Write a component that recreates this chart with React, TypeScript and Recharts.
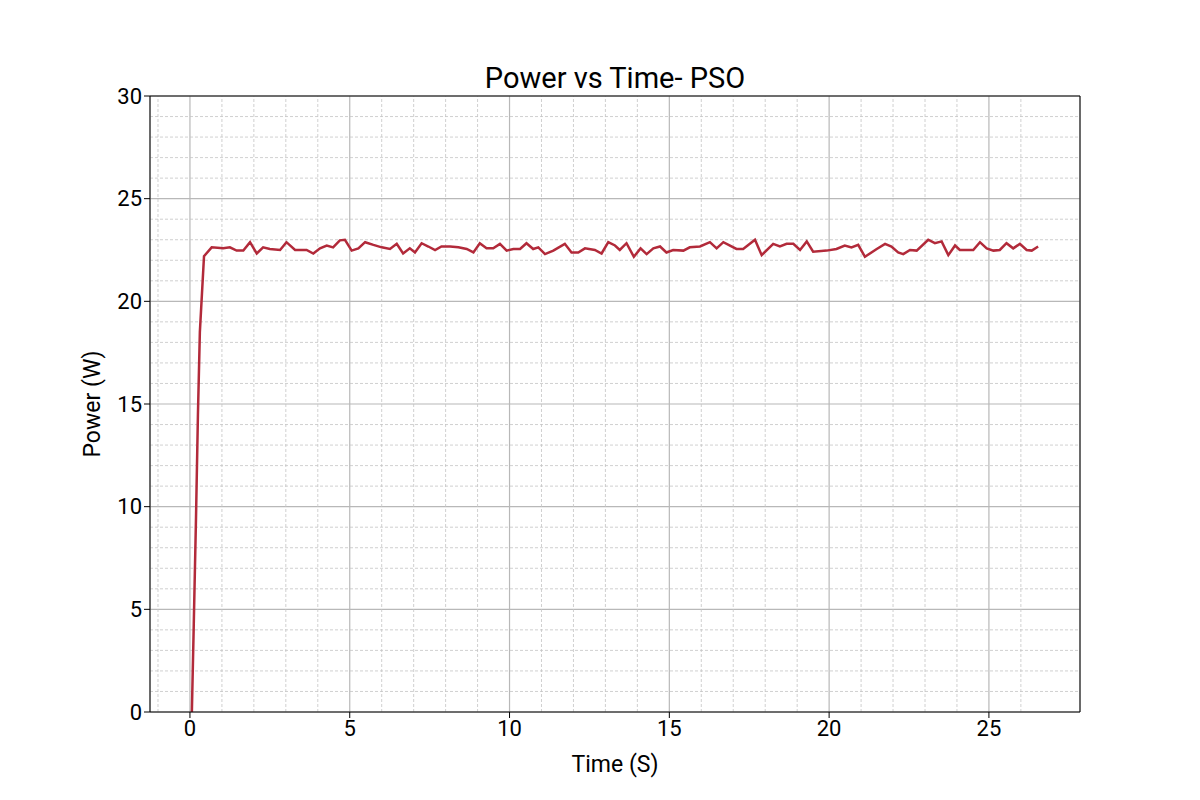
import { LineChart, Line, XAxis, YAxis, CartesianGrid, ReferenceLine } from "recharts";

const times = [0.06, 0.12, 0.19, 0.25, 0.31, 0.44, 0.68, 1.04, 1.25, 1.46, 1.67, 1.88, 2.09, 2.29, 2.5, 2.82, 3.02, 3.29, 3.65, 3.86, 4.07, 4.28, 4.48, 4.69, 4.85, 5.06, 5.27, 5.48, 5.74, 6.0, 6.26, 6.47, 6.67, 6.88, 7.04, 7.25, 7.46, 7.67, 7.87, 8.14, 8.4, 8.66, 8.87, 9.07, 9.28, 9.49, 9.7, 9.91, 10.12, 10.33, 10.53, 10.74, 10.9, 11.11, 11.37, 11.73, 11.94, 12.15, 12.36, 12.67, 12.88, 13.09, 13.3, 13.45, 13.66, 13.89, 14.1, 14.29, 14.5, 14.71, 14.91, 15.12, 15.44, 15.64, 15.96, 16.27, 16.48, 16.69, 17.1, 17.31, 17.68, 17.89, 18.25, 18.46, 18.67, 18.88, 19.09, 19.3, 19.5, 19.92, 20.23, 20.49, 20.7, 20.91, 21.12, 21.49, 21.75, 21.95, 22.16, 22.32, 22.53, 22.74, 23.1, 23.31, 23.52, 23.73, 23.94, 24.09, 24.51, 24.72, 24.93, 25.14, 25.34, 25.55, 25.76, 25.97, 26.18, 26.34, 26.54];
const power = [0, 4.3, 9.5, 14.5, 18.5, 22.2, 22.63, 22.58, 22.63, 22.47, 22.47, 22.88, 22.33, 22.63, 22.55, 22.5, 22.88, 22.5, 22.5, 22.33, 22.58, 22.72, 22.63, 22.97, 23.0, 22.47, 22.58, 22.88, 22.75, 22.63, 22.55, 22.8, 22.33, 22.58, 22.38, 22.83, 22.67, 22.5, 22.67, 22.67, 22.63, 22.55, 22.38, 22.83, 22.58, 22.58, 22.8, 22.47, 22.55, 22.55, 22.83, 22.55, 22.63, 22.3, 22.47, 22.8, 22.38, 22.38, 22.58, 22.5, 22.33, 22.88, 22.72, 22.5, 22.83, 22.17, 22.58, 22.3, 22.58, 22.67, 22.38, 22.5, 22.47, 22.63, 22.67, 22.88, 22.58, 22.88, 22.55, 22.55, 23.0, 22.25, 22.8, 22.67, 22.8, 22.8, 22.5, 22.92, 22.42, 22.47, 22.55, 22.72, 22.63, 22.75, 22.17, 22.55, 22.8, 22.67, 22.38, 22.3, 22.5, 22.47, 23.0, 22.83, 22.92, 22.25, 22.72, 22.5, 22.5, 22.88, 22.58, 22.47, 22.5, 22.83, 22.58, 22.8, 22.5, 22.47, 22.67];

const xTicks = [0, 5, 10, 15, 20, 25];
const yTicks = [0, 5, 10, 15, 20, 25, 30];
const xMinor = Array.from({ length: 28 }, (_, i) => i - 1).filter((v) => v % 5 !== 0);
const yMinor = Array.from({ length: 30 }, (_, i) => i).filter((v) => v % 5 !== 0);

const data = times.map((t, i) => ({ t, p: power[i] }));
const font = "Roboto, 'DejaVu Sans', sans-serif";

export default function App() {
  return (
    <div style={{ position: "absolute", left: 0, top: 0, width: 1200, height: 800, background: "#fff", fontFamily: font }}>
      <div style={{ position: "absolute", top: 61, left: 150, width: 930, textAlign: "center", fontSize: 29 }}>
        Power vs Time- PSO
      </div>
      <LineChart width={1200} height={800} data={data} margin={{ top: 96, right: 120, bottom: 0, left: 0 }}>
        {xMinor.map((v) => (
          <ReferenceLine key={"x" + v} x={v} stroke="#c4c4c4" strokeDasharray="3 2" strokeWidth={0.8} />
        ))}
        {yMinor.map((v) => (
          <ReferenceLine key={"y" + v} y={v} stroke="#c4c4c4" strokeDasharray="3 2" strokeWidth={0.8} />
        ))}
        <CartesianGrid stroke="#b8b8b8" strokeWidth={1.2} />
        <XAxis
          dataKey="t"
          type="number"
          domain={[-1.25, 27.85]}
          ticks={xTicks}
          height={88}
          stroke="#000"
          tick={{ fill: "#000", fontSize: 22, fontFamily: font }}
          tickSize={6}
          label={{ value: "Time (S)", position: "insideBottom", offset: 28, fontSize: 23, fill: "#000", fontFamily: font }}
        />
        <YAxis
          type="number"
          domain={[0, 30]}
          ticks={yTicks}
          width={150}
          stroke="#000"
          tick={{ fill: "#000", fontSize: 22, fontFamily: font }}
          tickSize={6}
          label={{ value: "Power (W)", angle: -90, position: "insideLeft", offset: 92, fontSize: 23, fill: "#000", fontFamily: font, style: { textAnchor: "middle" } }}
        />
        <ReferenceLine y={30} stroke="#000" />
        <ReferenceLine x={27.85} stroke="#000" />
        <Line dataKey="p" stroke="#b22a3a" strokeWidth={2.5} dot={false} isAnimationActive={false} />
      </LineChart>
    </div>
  );
}
